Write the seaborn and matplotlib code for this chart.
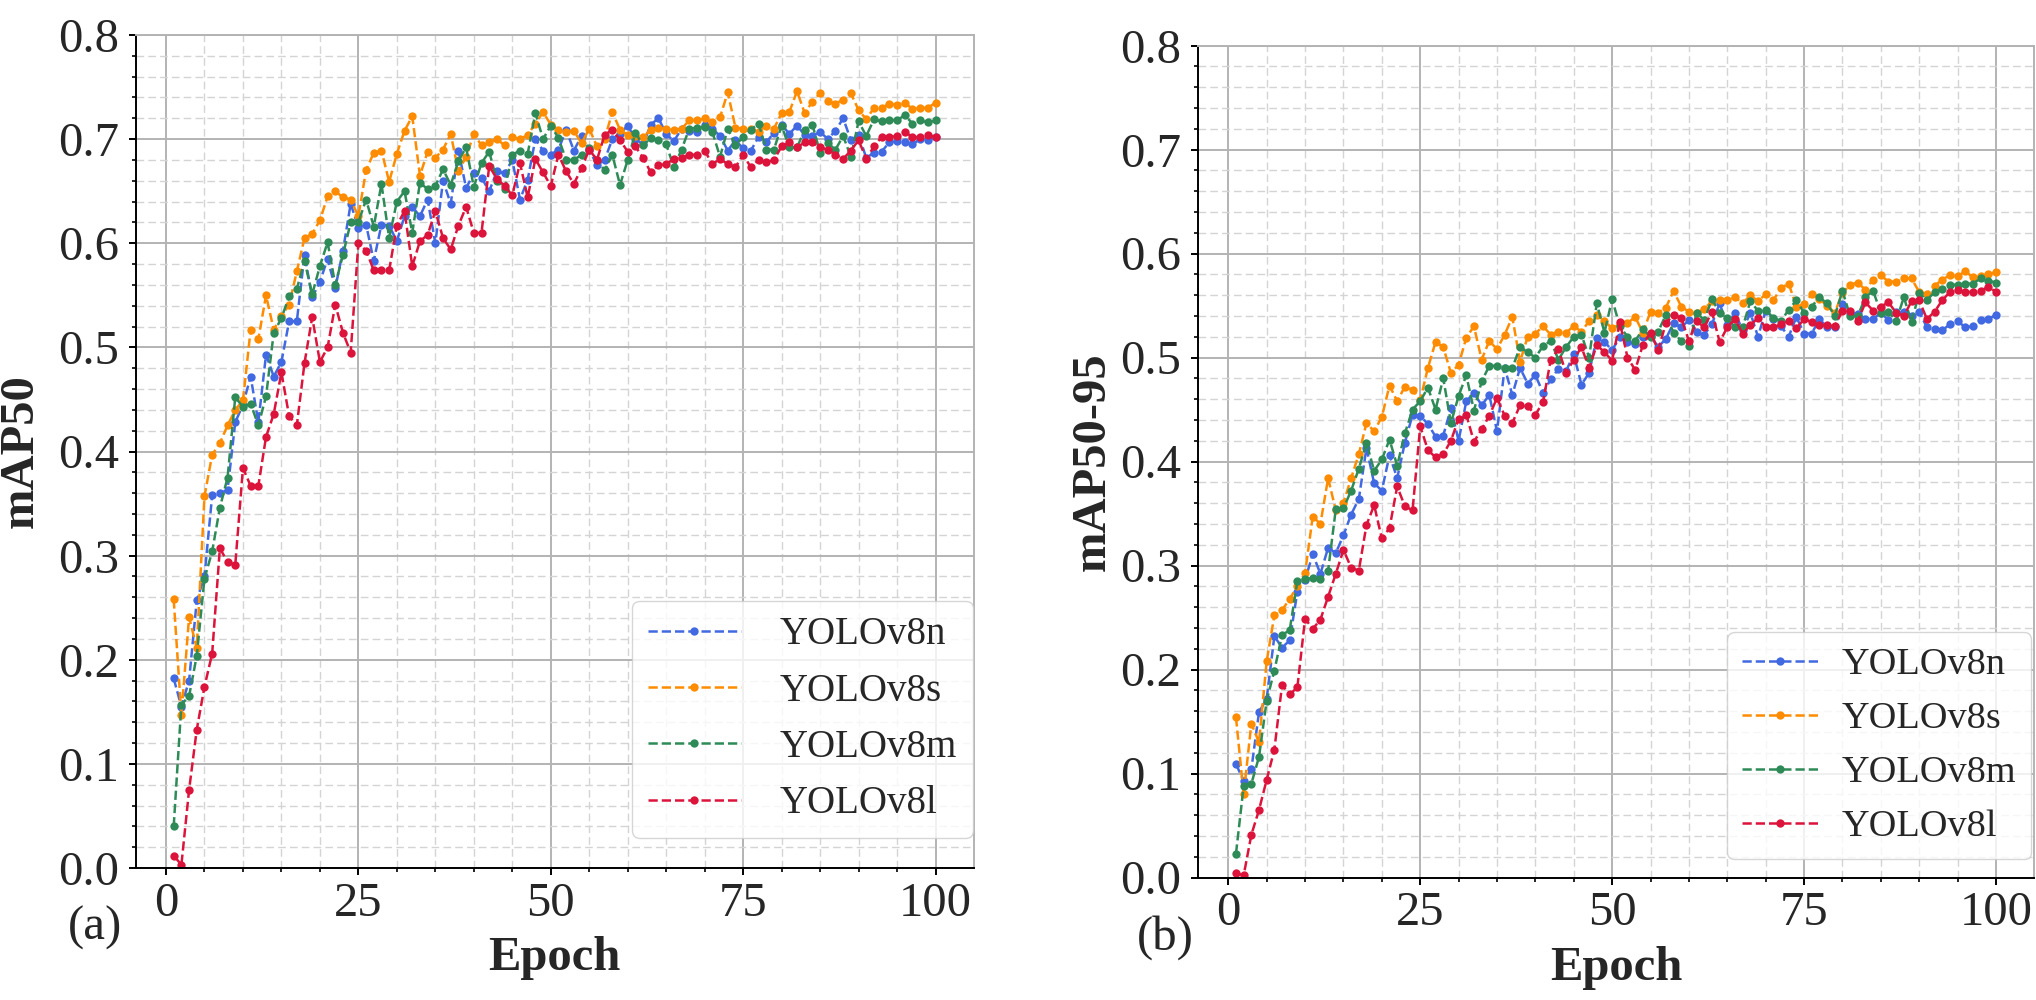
import matplotlib

matplotlib.use("Agg")
import matplotlib.pyplot as plt  # noqa: E402
import pandas as pd  # noqa: E402
import seaborn as sns  # noqa: E402
from matplotlib.lines import Line2D  # noqa: E402
from matplotlib.ticker import FormatStrFormatter, MultipleLocator  # noqa: E402

EPOCHS = list(range(1, 101))
MODELS = ["YOLOv8n", "YOLOv8s", "YOLOv8m", "YOLOv8l"]
COLORS = {"YOLOv8n": "#4169E1", "YOLOv8s": "#FF8C00", "YOLOv8m": "#2E8B57", "YOLOv8l": "#DC143C"}

# mAP50 por época
N50 = [
    0.182, 0.155, 0.180, 0.257, 0.280, 0.358, 0.360, 0.363, 0.428, 0.445,
    0.472, 0.428, 0.493, 0.472, 0.486, 0.525, 0.525, 0.589, 0.548, 0.563,
    0.585, 0.557, 0.593, 0.638, 0.615, 0.618, 0.583, 0.618, 0.617, 0.602,
    0.626, 0.635, 0.626, 0.642, 0.600, 0.660, 0.638, 0.689, 0.653, 0.667,
    0.663, 0.650, 0.669, 0.667, 0.680, 0.642, 0.661, 0.700, 0.689, 0.685,
    0.690, 0.709, 0.689, 0.703, 0.690, 0.675, 0.680, 0.700, 0.705, 0.713,
    0.700, 0.695, 0.714, 0.720, 0.705, 0.698, 0.710, 0.708, 0.707, 0.714,
    0.710, 0.703, 0.689, 0.699, 0.691, 0.689, 0.702, 0.697, 0.706, 0.714,
    0.705, 0.713, 0.704, 0.703, 0.707, 0.700, 0.708, 0.720, 0.699, 0.704,
    0.682, 0.687, 0.688, 0.697, 0.698, 0.697, 0.695, 0.700, 0.699, 0.702,
]
S50 = [
    0.258, 0.147, 0.241, 0.211, 0.357, 0.397, 0.408, 0.425, 0.440, 0.449,
    0.517, 0.508, 0.550, 0.517, 0.530, 0.541, 0.573, 0.605, 0.609, 0.622,
    0.645, 0.650, 0.644, 0.642, 0.626, 0.670, 0.687, 0.689, 0.659, 0.686,
    0.708, 0.722, 0.665, 0.688, 0.682, 0.690, 0.705, 0.669, 0.683, 0.705,
    0.694, 0.697, 0.700, 0.694, 0.702, 0.700, 0.704, 0.715, 0.726, 0.714,
    0.709, 0.707, 0.708, 0.696, 0.710, 0.693, 0.700, 0.726, 0.709, 0.704,
    0.703, 0.702, 0.709, 0.711, 0.710, 0.709, 0.710, 0.718, 0.718, 0.720,
    0.716, 0.721, 0.745, 0.711, 0.710, 0.710, 0.707, 0.713, 0.710, 0.725,
    0.726, 0.746, 0.725, 0.736, 0.744, 0.737, 0.734, 0.738, 0.744, 0.728,
    0.719, 0.730, 0.730, 0.734, 0.733, 0.735, 0.729, 0.730, 0.730, 0.735,
]
M50 = [
    0.040, 0.157, 0.165, 0.204, 0.278, 0.304, 0.346, 0.375, 0.452, 0.443,
    0.446, 0.425, 0.453, 0.514, 0.528, 0.549, 0.556, 0.583, 0.551, 0.578,
    0.601, 0.560, 0.589, 0.620, 0.620, 0.642, 0.616, 0.657, 0.605, 0.640,
    0.650, 0.610, 0.658, 0.652, 0.655, 0.671, 0.656, 0.679, 0.692, 0.654,
    0.677, 0.688, 0.660, 0.652, 0.685, 0.689, 0.686, 0.725, 0.700, 0.713,
    0.701, 0.680, 0.680, 0.685, 0.691, 0.680, 0.670, 0.685, 0.656, 0.680,
    0.706, 0.694, 0.701, 0.699, 0.695, 0.673, 0.690, 0.710, 0.711, 0.712,
    0.707, 0.683, 0.710, 0.694, 0.702, 0.709, 0.715, 0.690, 0.690, 0.713,
    0.692, 0.692, 0.709, 0.714, 0.687, 0.696, 0.690, 0.703, 0.683, 0.717,
    0.703, 0.719, 0.717, 0.718, 0.718, 0.723, 0.715, 0.718, 0.716, 0.718,
]
L50 = [
    0.012, 0.003, 0.075, 0.133, 0.174, 0.206, 0.307, 0.294, 0.291, 0.384,
    0.367, 0.367, 0.414, 0.436, 0.476, 0.434, 0.425, 0.485, 0.529, 0.486,
    0.500, 0.541, 0.514, 0.495, 0.600, 0.593, 0.574, 0.574, 0.574, 0.617,
    0.631, 0.578, 0.602, 0.608, 0.631, 0.605, 0.594, 0.617, 0.635, 0.610,
    0.610, 0.674, 0.662, 0.655, 0.646, 0.677, 0.644, 0.681, 0.668, 0.655,
    0.685, 0.669, 0.657, 0.672, 0.690, 0.680, 0.704, 0.709, 0.699, 0.688,
    0.693, 0.682, 0.668, 0.675, 0.676, 0.681, 0.682, 0.685, 0.685, 0.689,
    0.676, 0.681, 0.676, 0.673, 0.685, 0.673, 0.680, 0.678, 0.680, 0.693,
    0.697, 0.692, 0.697, 0.697, 0.692, 0.690, 0.685, 0.681, 0.689, 0.699,
    0.681, 0.693, 0.702, 0.702, 0.703, 0.707, 0.702, 0.702, 0.704, 0.702,
]

# mAP50-95 por época
N5095 = [
    0.109, 0.093, 0.104, 0.159, 0.172, 0.232, 0.221, 0.228, 0.275, 0.286,
    0.311, 0.292, 0.317, 0.312, 0.329, 0.349, 0.364, 0.413, 0.379, 0.372,
    0.406, 0.384, 0.418, 0.445, 0.444, 0.436, 0.424, 0.425, 0.451, 0.420,
    0.458, 0.466, 0.454, 0.464, 0.429, 0.490, 0.464, 0.490, 0.475, 0.483,
    0.466, 0.479, 0.489, 0.487, 0.503, 0.474, 0.485, 0.519, 0.515, 0.507,
    0.520, 0.515, 0.513, 0.520, 0.521, 0.510, 0.518, 0.533, 0.529, 0.536,
    0.525, 0.522, 0.532, 0.552, 0.531, 0.543, 0.526, 0.543, 0.520, 0.545,
    0.537, 0.530, 0.520, 0.539, 0.523, 0.523, 0.537, 0.529, 0.529, 0.551,
    0.543, 0.542, 0.537, 0.537, 0.543, 0.536, 0.544, 0.544, 0.540, 0.544,
    0.529, 0.527, 0.526, 0.532, 0.535, 0.529, 0.530, 0.536, 0.537, 0.541,
]
S5095 = [
    0.154, 0.080, 0.148, 0.130, 0.208, 0.252, 0.257, 0.268, 0.280, 0.293,
    0.347, 0.340, 0.384, 0.353, 0.360, 0.384, 0.407, 0.437, 0.429, 0.443,
    0.473, 0.458, 0.472, 0.469, 0.459, 0.490, 0.515, 0.510, 0.485, 0.493,
    0.519, 0.530, 0.498, 0.516, 0.508, 0.522, 0.539, 0.496, 0.520, 0.523,
    0.530, 0.522, 0.525, 0.524, 0.530, 0.525, 0.535, 0.541, 0.535, 0.528,
    0.532, 0.533, 0.539, 0.524, 0.544, 0.543, 0.548, 0.564, 0.549, 0.544,
    0.543, 0.547, 0.554, 0.555, 0.555, 0.558, 0.552, 0.560, 0.554, 0.561,
    0.555, 0.567, 0.571, 0.549, 0.551, 0.561, 0.556, 0.550, 0.543, 0.562,
    0.570, 0.572, 0.565, 0.575, 0.579, 0.573, 0.573, 0.576, 0.576, 0.563,
    0.561, 0.569, 0.575, 0.579, 0.578, 0.583, 0.577, 0.578, 0.580, 0.582,
]
M5095 = [
    0.023, 0.088, 0.090, 0.116, 0.170, 0.199, 0.233, 0.238, 0.285, 0.287,
    0.288, 0.287, 0.295, 0.354, 0.355, 0.372, 0.393, 0.418, 0.391, 0.402,
    0.421, 0.396, 0.427, 0.450, 0.458, 0.471, 0.450, 0.480, 0.437, 0.463,
    0.483, 0.449, 0.477, 0.492, 0.492, 0.490, 0.490, 0.510, 0.505, 0.500,
    0.511, 0.516, 0.498, 0.510, 0.520, 0.522, 0.500, 0.552, 0.524, 0.556,
    0.530, 0.520, 0.516, 0.527, 0.520, 0.525, 0.541, 0.524, 0.516, 0.511,
    0.543, 0.536, 0.556, 0.543, 0.538, 0.529, 0.529, 0.554, 0.545, 0.546,
    0.538, 0.535, 0.546, 0.555, 0.543, 0.549, 0.558, 0.552, 0.540, 0.564,
    0.540, 0.540, 0.558, 0.564, 0.543, 0.544, 0.535, 0.558, 0.534, 0.562,
    0.555, 0.563, 0.566, 0.570, 0.570, 0.571, 0.571, 0.576, 0.574, 0.572,
]
L5095 = [
    0.004, 0.002, 0.041, 0.065, 0.094, 0.123, 0.185, 0.176, 0.183, 0.249,
    0.239, 0.248, 0.270, 0.292, 0.315, 0.298, 0.295, 0.339, 0.358, 0.326,
    0.336, 0.376, 0.357, 0.353, 0.434, 0.411, 0.404, 0.407, 0.420, 0.441,
    0.445, 0.419, 0.431, 0.444, 0.461, 0.444, 0.437, 0.454, 0.453, 0.445,
    0.457, 0.498, 0.508, 0.485, 0.498, 0.510, 0.490, 0.512, 0.505, 0.497,
    0.534, 0.500, 0.488, 0.512, 0.524, 0.507, 0.533, 0.541, 0.538, 0.516,
    0.535, 0.529, 0.544, 0.515, 0.529, 0.537, 0.523, 0.531, 0.538, 0.529,
    0.529, 0.532, 0.535, 0.528, 0.537, 0.534, 0.531, 0.531, 0.530, 0.545,
    0.545, 0.535, 0.553, 0.545, 0.549, 0.553, 0.543, 0.540, 0.554, 0.555,
    0.537, 0.544, 0.555, 0.563, 0.565, 0.563, 0.563, 0.564, 0.568, 0.563,
]

FONT = ["Liberation Serif", "DejaVu Serif"]
sns.set_theme(style="whitegrid")
plt.rcParams.update({"font.family": FONT, "font.size": 35})

LW = 1.8
MS = 6.0


def _long(series):
    rows = [pd.DataFrame({"Epoch": EPOCHS, "value": v, "Model": m}) for m, v in zip(MODELS, series, strict=True)]
    return pd.concat(rows, ignore_index=True)


def _panel(ax, series, ylabel, leg_kw, ylabelpad):
    d = _long(series)
    sns.lineplot(
        data=d,
        x="Epoch",
        y="value",
        hue="Model",
        hue_order=MODELS,
        palette=COLORS,
        marker="o",
        markersize=MS,
        markeredgewidth=0,
        linestyle="--",
        linewidth=LW,
        errorbar=None,
        legend=False,
        ax=ax,
    )
    ax.set_ylim(0, 0.8)
    ax.set_xticks([0, 25, 50, 75, 100])
    ax.xaxis.set_minor_locator(MultipleLocator(5))
    ax.yaxis.set_major_locator(MultipleLocator(0.1))
    ax.yaxis.set_minor_locator(MultipleLocator(0.02))
    ax.yaxis.set_major_formatter(FormatStrFormatter("%.1f"))
    ax.grid(which="major", color="#b3b3b3", lw=1.4, ls="-")
    ax.grid(which="minor", color="#d4d4d4", lw=1.0, ls=(0, (5.5, 3)))
    ax.set_axisbelow(True)
    ax.tick_params(which="major", direction="out", length=5, width=1.4, color="black", labelsize=35,
                   bottom=True, left=True, pad=5)
    ax.tick_params(axis="y", which="major", pad=7)
    ax.tick_params(which="minor", direction="out", length=3, width=1.2, color="black", bottom=True, left=True)
    for sp in ("left", "bottom"):
        ax.spines[sp].set_color("black")
        ax.spines[sp].set_linewidth(1.4)
    for sp in ("top", "right"):
        ax.spines[sp].set_color("#b3b3b3")
        ax.spines[sp].set_linewidth(1.4)
    ax.set_xlabel("Epoch", fontsize=35, fontweight="bold")
    ax.set_ylabel(ylabel, fontsize=35, fontweight="bold", labelpad=ylabelpad)
    ax.xaxis.set_label_coords(0.5, -0.082)
    handles = [
        Line2D([0], [0], color=COLORS[m], ls="--", lw=LW, marker="o", ms=MS, mew=0, label=m) for m in MODELS
    ]
    ax.legend(handles=handles, loc="lower right", frameon=True, borderaxespad=0, **leg_kw)


fig = plt.figure(figsize=(20.36, 10), dpi=100)
ax1 = fig.add_axes([0.0666, 0.132, 0.4116, 0.833])
ax2 = fig.add_axes([0.5884, 0.1225, 0.4106, 0.832])
_panel(ax1, [N50, S50, M50, L50], "mAP50",
       dict(fontsize=28, handlelength=2.4, handletextpad=1.0, bbox_to_anchor=(0.999, 0.036)), 11)
_panel(ax2, [N5095, S5095, M5095, L5095], "mAP50-95",
       dict(fontsize=27.5, handletextpad=0.6, bbox_to_anchor=(0.997, 0.022)), 4)
fig.text(95 / 2036, 0.072, "(a)", ha="center", va="center", fontsize=35)
fig.text(1165 / 2036, 0.062, "(b)", ha="center", va="center", fontsize=35)
fig.savefig("out.png", dpi=100)
plt.close(fig)
